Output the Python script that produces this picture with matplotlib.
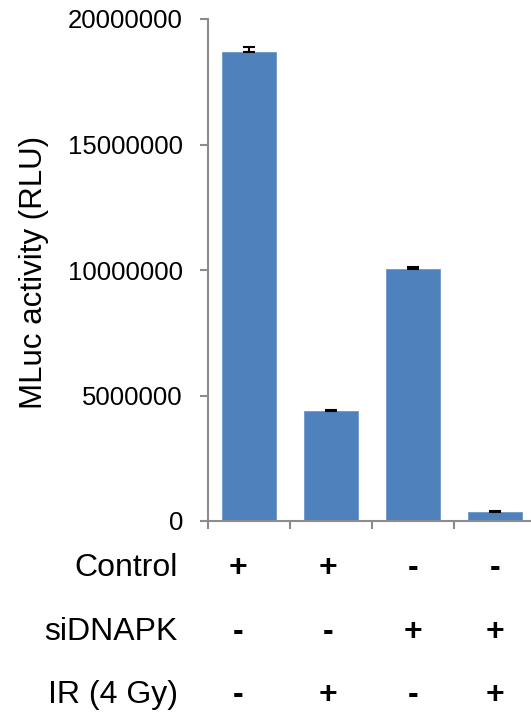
import matplotlib
matplotlib.use("Agg")
import matplotlib.pyplot as plt
from matplotlib.transforms import blended_transform_factory

# ---- data ----
conditions = ["Control + IR-", "Control + IR+", "siDNAPK IR-", "siDNAPK IR+"]
values = [18700000, 4380000, 10050000, 370000]
errors = [200000, 50000, 80000, 30000]
row_labels = ["Control", "siDNAPK", "IR (4 Gy)"]
row_signs = [["+", "+", "-", "-"],
             ["-", "-", "+", "+"],
             ["-", "+", "-", "+"]]
yticks = [0, 5000000, 10000000, 15000000, 20000000]
ylabel = "MLuc activity (RLU)"

plt.rcParams['font.family'] = ['Liberation Sans', 'DejaVu Sans']

W, H = 531, 716
fig = plt.figure(figsize=(W / 100, H / 100), dpi=100)
ax = fig.add_axes([208 / W, 195 / H, 328 / W, 502 / H])

x = list(range(len(values)))
ax.bar(x, values, width=0.655, color="#4F81BD", edgecolor="#6F97C9", linewidth=0.6, zorder=2)
ax.errorbar(x, values, yerr=[[0] * len(errors), errors], fmt="none", ecolor="black",
            elinewidth=1.5, capsize=4.3, capthick=1.5, zorder=3)

ax.set_xlim(-0.5, 3.5)
ax.set_ylim(0, 20000000)
ax.set_yticks(yticks)
ax.set_yticklabels([str(v) for v in yticks], fontsize=18.5)
ax.set_xticks([i + 0.5 for i in range(-1, len(values))])
ax.set_xticklabels([])

for s in ["top", "right"]:
    ax.spines[s].set_visible(False)
for s in ["left", "bottom"]:
    ax.spines[s].set_color("#8c8c8c")
    ax.spines[s].set_linewidth(1.5)
ax.tick_params(axis="y", direction="out", length=6, width=1.5, color="#8c8c8c", pad=12)
ax.tick_params(axis="x", direction="out", length=6, width=1.5, color="#8c8c8c")

fig.text(34 / W, 1 - 272 / H, ylabel, rotation=90, ha="center", va="center", fontsize=22.5)

# condition table below
trans = blended_transform_factory(ax.transData, fig.transFigure)
row_y = [568, 632, 695]
sign_offsets = [-0.13, -0.04, 0.0, 0.0]
for r, (lab, signs) in enumerate(zip(row_labels, row_signs)):
    yf = 1 - row_y[r] / H
    fig.text(178 / W, yf, lab, ha="right", va="center", fontsize=23)
    for i, s in enumerate(signs):
        ax.text(i + sign_offsets[i], yf, s, transform=trans, ha="center", va="center",
                fontsize=23, fontweight="bold", clip_on=False)

fig.savefig("out.png", dpi=100)
